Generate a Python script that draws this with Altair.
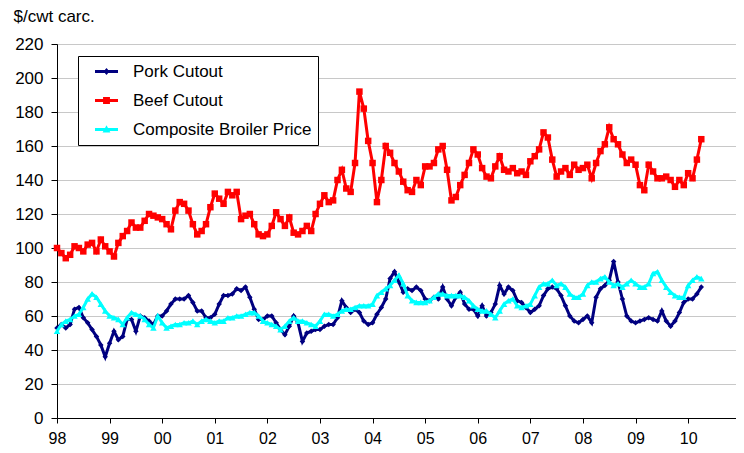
import altair as alt
import pandas as pd

# Monthly readings, Jan 1998 .. Apr 2010 ($/cwt carcass)
pork = [
    53, 55, 53, 55, 64, 65, 59, 56, 52, 48, 43, 36,
    44, 51, 46, 48, 58, 58, 51, 60, 59, 57, 55, 60,
    60, 63, 67, 70, 70, 70, 72, 68, 63, 63, 59, 59,
    61, 67, 72, 72, 73, 76, 75, 77, 71, 64, 58, 58,
    60, 60, 56, 52, 49, 54, 60, 56, 45, 50, 51, 52,
    52, 54, 55, 55, 59, 69, 65, 62, 64, 62, 57, 55,
    56, 61, 65, 70, 82, 86, 80, 74, 76, 75, 77, 75,
    70, 69, 71, 70, 77, 70, 66, 71, 74, 67, 64, 64,
    60, 66, 60, 62, 67, 78, 73, 77, 75, 69, 68, 65,
    62, 64, 66, 72, 76, 77, 76, 72, 66, 60, 57, 56,
    58, 60, 56, 71, 76, 78, 81, 92, 80, 70, 60, 57,
    56, 57, 58, 59, 58, 57, 63, 57, 54, 57, 62, 68,
    70, 70, 73, 77,
]
beef = [
    100, 97, 94, 96, 101, 100, 98, 102, 103, 98, 105, 101,
    98, 95, 103, 107, 110, 115, 112, 112, 116, 120, 119, 118,
    117, 114, 111, 122, 127, 126, 122, 114, 108, 110, 114, 124,
    132, 129, 126, 133, 131, 133, 117, 119, 120, 114, 108, 107,
    108, 113, 121, 117, 113, 118, 109, 108, 110, 113, 110, 120,
    126, 131, 127, 128, 140, 146, 135, 133, 150, 192, 182, 163,
    150, 127, 140, 160, 156, 150, 145, 139, 134, 133, 140, 137,
    148, 148, 150, 158, 160, 146, 128, 130, 137, 143, 150, 158,
    155, 147, 142, 141, 148, 154, 146, 145, 147, 144, 145, 143,
    151, 154, 158, 168, 165, 152, 142, 145, 147, 143, 149, 146,
    147, 149, 141, 150, 157, 161, 171, 164, 161, 155, 150, 152,
    149, 137, 134, 149, 145, 141, 141, 142, 140, 136, 140, 137,
    144, 141, 152, 164,
]
broiler = [
    51, 55, 57, 58, 60, 61, 65, 70, 73, 71, 67, 63,
    60, 59, 58, 55, 59, 62, 61, 60, 58, 55, 53, 60,
    56, 53, 54, 55, 55, 56, 56, 57, 55, 57, 58, 57,
    56, 57, 57, 59, 59, 60, 60, 61, 62, 62, 60, 57,
    56, 55, 54, 52, 54, 57, 59, 57, 57, 56, 55, 54,
    57, 61, 61, 60, 61, 63, 64, 64, 65, 66, 66, 66,
    67, 72, 74, 76, 78, 81, 84, 79, 72, 69, 68, 68,
    68, 69, 71, 73, 73, 72, 72, 72, 72, 71, 69, 66,
    64, 63, 63, 61, 59, 63, 67, 69, 70, 66, 65, 66,
    67, 72, 77, 79, 79, 81, 78, 79, 77, 73, 71, 71,
    73, 78, 80, 80, 82, 83, 80, 78, 79, 77, 79, 81,
    79, 77, 77, 79, 85, 86, 81, 77, 74, 72, 71, 71,
    78, 81, 83, 82,
]

series_names = ["Pork Cutout", "Beef Cutout", "Composite Broiler Price"]
series_colors = ["#000080", "#FF0000", "#00FFFF"]
marker_shapes = ["diamond", "square", "triangle-up"]
marker_sizes = [30, 42, 42]
year_ticks = list(range(1998, 2011))
y_ticks = list(range(0, 221, 20))

# legend symbols: a line segment with the series marker in its middle
legend_paths = [
    "M-1,-0.13H1V0.13H-1Z M0,-0.3L0.26,0L0,0.3L-0.26,0Z",
    "M-1,-0.13H1V0.13H-1Z M-0.3,-0.3H0.3V0.3H-0.3Z",
    "M-1,-0.13H1V0.13H-1Z M0,-0.36L0.34,0.26L-0.34,0.26Z",
]

n = len(pork)
months = [1998 + i / 12 for i in range(n)]
df = pd.DataFrame({
    "t": months * 3,
    "v": pork + beef + broiler,
    "s": [series_names[0]] * n + [series_names[1]] * n + [series_names[2]] * n,
})

FONT = "Liberation Sans"

x_enc = alt.X(
    "t:Q",
    scale=alt.Scale(domain=[1998, 2010.91], nice=False, zero=False),
    axis=alt.Axis(
        values=year_ticks,
        labelExpr="substring(toString(datum.value), 2, 4)",
        grid=False,
        title=None,
        tickSize=5,
        labelPadding=7,
        labelFontSize=16,
        labelFlush=False,
    ),
)
y_enc = alt.Y(
    "v:Q",
    scale=alt.Scale(domain=[0, 220], nice=False),
    axis=alt.Axis(
        values=y_ticks,
        grid=True,
        title="$/cwt carc.",
        titleAngle=0,
        titleAlign="left",
        titleBaseline="alphabetic",
        titleX=-44,
        titleY=-23,
        titleFont=FONT,
        titleFontSize=17,
        titleFontWeight="normal",
        titleColor="black",
        tickSize=6,
        labelPadding=8,
        labelFontSize=17,
    ),
)

base = alt.Chart(df)

layers = []
for name, color, shape, size in zip(series_names, series_colors, marker_shapes, marker_sizes):
    d = base.transform_filter(alt.datum.s == name)
    layers.append(d.mark_line(color=color, strokeWidth=3).encode(x=x_enc, y=y_enc))
    layers.append(
        d.mark_point(shape=shape, filled=True, color=color, size=size, opacity=1).encode(x=x_enc, y=y_enc)
    )

leg = alt.Legend(
    title=None,
    orient="none",
    legendX=21,
    legendY=12,
    direction="vertical",
    fillColor="white",
    strokeColor="black",
    padding=6,
    symbolSize=529,
    symbolStrokeWidth=0,
    symbolOffset=11,
    labelOffset=15,
    rowPadding=10,
    clipHeight=19,
    labelFont=FONT,
    labelFontSize=17,
    labelColor="black",
    labelLimit=400,
)

legend_layer = base.transform_filter("false").mark_point(filled=True, opacity=1).encode(
    color=alt.Color("s:N", scale=alt.Scale(domain=series_names, range=series_colors), legend=leg),
    shape=alt.Shape("s:N", scale=alt.Scale(domain=series_names, range=legend_paths), legend=leg),
)
layers.append(legend_layer)

chart = (
    alt.layer(*layers)
    .properties(
        width=679,
        height=374,
        autosize=alt.AutoSizeParams(type="none"),
        padding={"left": 49, "top": 36, "right": 0, "bottom": 28},
    )
    .configure_view(stroke="#a0a0a0", strokeWidth=1)
    .configure_axis(
        labelFont=FONT,
        labelColor="black",
        domainColor="black",
        domainWidth=1,
        tickColor="black",
        tickWidth=1,
        gridColor="#c8c8c8",
        gridWidth=1,
    )
)

chart.save("out.html", embed_options={"renderer": "svg", "actions": False})
